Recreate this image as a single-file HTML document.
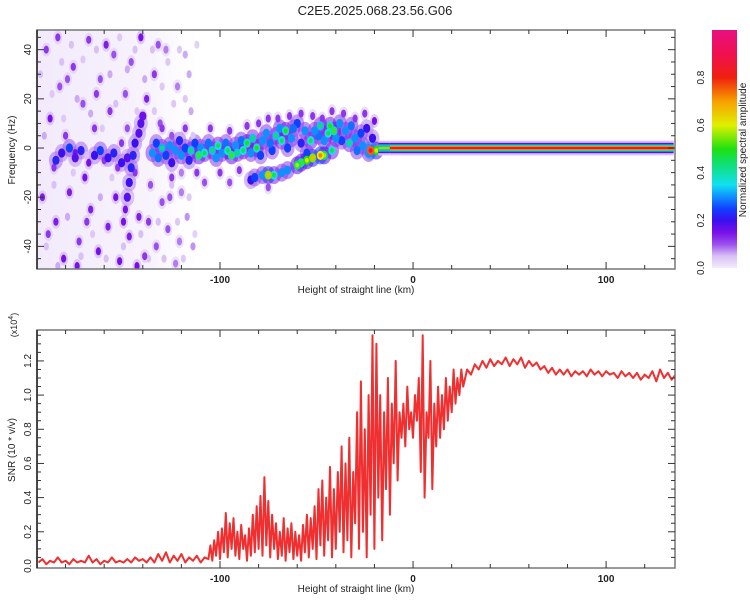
<!DOCTYPE html>
<html><head><meta charset="utf-8"><style>
html,body{margin:0;padding:0;background:#fff;}
svg{display:block;font-family:"Liberation Sans",sans-serif;}
</style></head><body>
<svg id="c" width="750" height="600" viewBox="0 0 750 600"></svg>
<script>
// ---------- data ----------
const xTickLabels = [-100, 0, 100];
const freqTickLabels = [-40, -20, 0, 20, 40];
const snrTickLabels = [0.0, 0.2, 0.4, 0.6, 0.8, 1.0, 1.2];
const cbarTickLabels = [0.0, 0.2, 0.4, 0.6, 0.8];

// noise dots [km, Hz, amplitude]
const noiseDots = [[-190,40,0.12],[-188,12,0.15],[-186,-8,0.12],[-185,-30,0.14],[-183,25,0.1],[-181,-45,0.15],[-180,5,0.12],[-178,-18,0.14],[-176,33,0.12],[-175,-2,0.15],[-173,-38,0.12],[-171,18,0.1],[-170,-12,0.15],[-168,44,0.12],[-167,-25,0.14],[-165,8,0.12],[-163,-42,0.15],[-162,28,0.1],[-160,-5,0.12],[-158,-32,0.14],[-157,15,0.12],[-155,38,0.1],[-154,-20,0.15],[-152,-46,0.15],[-151,2,0.12],[-149,22,0.1],[-147,-36,0.14],[-146,35,0.1],[-144,-10,0.12],[-142,-28,0.14],[-141,45,0.15],[-139,-44,0.12],[-138,20,0.14],[-136,-15,0.1],[-134,30,0.12],[-133,-40,0.1],[-131,10,0.1],[-130,-22,0.1],[-128,40,0.08],[-127,-33,0.1],[-125,5,0.1],[-123,-47,0.08],[-122,25,0.08],[-120,-10,0.08],[-118,38,0.06],[-117,-28,0.07],[-115,15,0.06],[-114,-40,0.07],[-192,-20,0.14],[-189,-35,0.12],[-184,45,0.12],[-179,28,0.1],[-174,-48,0.15],[-169,-30,0.12],[-164,22,0.12],[-159,42,0.14],[-153,-8,0.12],[-148,8,0.1],[-143,-48,0.15],[-137,-30,0.12],[-132,42,0.1],[-126,-20,0.1],[-121,-38,0.08],[-116,30,0.06],
[-193,30,0.05],[-191,5,0.06],[-190,-40,0.05],[-187,22,0.04],[-186,-15,0.05],[-184,-48,0.06],[-182,35,0.05],[-181,12,0.04],[-179,-28,0.06],[-177,42,0.05],[-176,-10,0.04],[-174,20,0.06],[-172,-44,0.05],[-171,36,0.04],[-169,-3,0.05],[-167,14,0.06],[-166,-35,0.04],[-164,40,0.05],[-162,-20,0.06],[-161,8,0.04],[-159,-45,0.05],[-157,30,0.06],[-156,-12,0.04],[-154,18,0.05],[-152,45,0.04],[-150,-40,0.05],[-148,32,0.06],[-146,-20,0.04],[-144,40,0.05],[-143,15,0.04],[-141,-35,0.05],[-139,28,0.06],[-137,-45,0.04],[-135,40,0.05],[-134,15,0.04],[-132,-30,0.05],[-130,25,0.04],[-129,-45,0.05],[-127,35,0.04],[-125,-15,0.05],[-124,18,0.04],[-122,-30,0.04],[-121,40,0.04],[-119,-45,0.04],[-118,20,0.04],[-116,-20,0.04],[-114,5,0.04],[-113,-35,0.03],[-112,42,0.03]];

// signal blobs [km, Hz, amplitude]
const signalBlobs = [[-185,-5,0.22],[-182,-2,0.2],[-178,0,0.25],[-175,-4,0.18],[-172,-1,0.22],[-168,-6,0.15],[-165,-3,0.2],[-162,-1,0.25],[-158,-4,0.2],[-155,-2,0.22],[-151,-6,0.2],[-148,-4,0.18],
[-150,-30,0.15],[-149,-25,0.15],[-148,-20,0.18],[-147,-14,0.2],[-146,-8,0.22],[-145,-3,0.22],[-144,2,0.2],[-142,6,0.18],[-141,10,0.18],[-140,13,0.16],
[-130,8,0.12],[-125,-12,0.12],[-118,8,0.12],[-112,-10,0.12],[-105,8,0.12],[-100,-10,0.12],[-95,7,0.12],[-90,-9,0.12],[-86,9,0.12],[-80,10,0.12],[-75,12,0.12],[-70,12,0.12],[-64,13,0.12],[-58,14,0.12],[-52,13,0.12],[-47,12,0.12],[-42,15,0.12],[-36,14,0.12],[-30,12,0.12],[-25,14,0.12],[-95,-14,0.1],[-108,-14,0.1],[-120,-18,0.08],[-75,-16,0.1],
[-135,-2,0.3],[-133,2,0.25],[-132,-4,0.28],[-130,0,0.32],[-128,-3,0.25],[-126,1,0.3],[-125,-6,0.2],[-123,-1,0.3],[-121,3,0.22],[-120,-3,0.3],[-118,0,0.25],[-116,-5,0.22],[-115,-1,0.33],[-113,2,0.25],[-111,-3,0.4],[-110,0,0.3],[-108,-2,0.35],[-106,2,0.28],[-104,-1,0.33],[-102,-4,0.3],[-101,1,0.35],[-99,-2,0.3],[-97,2,0.28],[-96,-1,0.35],[-94,-3,0.4],[-92,1,0.3],[-91,-2,0.33],[-89,3,0.28],[-88,-1,0.35],[-86,2,0.38],[-84,-2,0.3],[-83,4,0.33],[-81,0,0.38],[-79,-3,0.25],[-78,3,0.3],[-76,6,0.3],[-74,2,0.28],[-73,-1,0.25],[-71,5,0.33],[-69,8,0.3],[-68,3,0.35],[-66,7,0.38],[-65,0,0.25],[-63,4,0.3],[-62,8,0.28],[-60,10,0.25],[-58,2,0.22],[-56,7,0.3],[-55,-2,0.25],[-53,3,0.35],[-51,7,0.3],[-49,5,0.28],[-48,9,0.33],[-46,3,0.3],[-44,6,0.35],[-43,9,0.38],[-41,7,0.4],[-40,4,0.3],[-38,10,0.3],[-37,3,0.25],[-35,7,0.3],[-33,2,0.33],[-32,9,0.28],[-30,4,0.3],[-29,-1,0.28],[-27,6,0.25],[-26,1,0.3],[-24,8,0.2],[-23,-2,0.3],[-21,4,0.2],[-20,11,0.15],
[-84,-13,0.2],[-82,-12,0.25],[-78,-11,0.3],[-75,-11,0.55],[-72,-11,0.35],[-68,-10,0.3],[-65,-9,0.3],[-60,-7,0.45],[-58,-6,0.4],[-55,-5,0.5],[-52,-4,0.55],[-48,-3,0.6],[-46,-3,0.45],[-42,-1,0.35],[-22,-1,0.75],[-19,-1,0.5]];

// carrier band [kmStart, kmEnd, amplitude]
const carrierSegments = [[-18,-12,0.55],[-12,135,0.85]];

// SNR (x10^4) segments: start km, step km, values
const snrFarStart = -194, snrFarStep = 2;
const snrFar = [0.02,0.04,0.01,0.03,0.02,0.05,0.02,0.03,0.01,0.04,0.02,0.03,0.02,0.06,0.02,0.04,0.01,0.03,0.02,0.05,0.02,0.03,0.02,0.04,0.02,0.05,0.03,0.04,0.02,0.05,0.02,0.07,0.03,0.08,0.02,0.06,0.03,0.07,0.02,0.05,0.03,0.06,0.02,0.05];
const snrNoisyStart = -106, snrNoisyStep = 1;
const snrNoisy = [0.04,0.12,0.03,0.15,0.06,0.2,0.04,0.22,0.08,0.31,
0.05,0.25,0.1,0.28,0.06,0.2,0.04,0.24,0.1,0.18,
0.03,0.22,0.06,0.3,0.08,0.35,0.1,0.41,0.06,0.52,
0.12,0.38,0.05,0.3,0.1,0.25,0.04,0.2,0.06,0.28,
0.03,0.22,0.08,0.25,0.04,0.2,0.06,0.18,0.03,0.24,
0.08,0.3,0.05,0.28,0.1,0.35,0.04,0.45,0.12,0.5,
0.06,0.4,0.15,0.58,0.05,0.45,0.1,0.55,0.2,0.7,
0.08,0.6,0.15,0.75,0.05,0.55,0.25,0.9,0.1,1.08,
0.2,0.8,0.05,1.0,0.3,1.35,0.1,1.3,0.4,1.0,
0.15,0.9,0.45,1.1,0.3,0.95,0.6,1.2,0.5,0.9,
0.75,0.95,0.7,1.05,0.8,0.9,0.75,1.0,0.85,1.1,
0.55,1.35,0.4,0.9,0.75,1.2,0.45,0.95,0.7,1.05,
0.75,1.0,0.8,1.1,0.85,1.05,0.9,1.15,0.95,1.1,
1.0,1.15];
const snrPlateauStart = 26, snrPlateauStep = 2;
const snrPlateau = [1.05,1.15,1.12,1.18,1.15,1.2,1.16,1.21,1.17,1.2,
1.18,1.22,1.17,1.21,1.18,1.22,1.16,1.2,1.17,1.19,
1.15,1.17,1.13,1.16,1.12,1.15,1.12,1.15,1.11,1.14,
1.12,1.14,1.11,1.15,1.12,1.14,1.11,1.14,1.12,1.13,
1.1,1.14,1.11,1.13,1.1,1.13,1.09,1.12,1.1,1.14,
1.08,1.15,1.1,1.13,1.09,1.12];

// ---------- layout ----------
const NS = "http://www.w3.org/2000/svg";
const svg = document.getElementById('c');
const L = 37, R = 675;
const T1 = 30, B1 = 269, T2 = 330, B2 = 568;
const kmMin = -194.8, kmMax = 135.7;
const hzMin = -49.2, hzMax = 48;
const snrMin = -0.012, snrMax = 1.381;
const xS = km => L + (km - kmMin) / (kmMax - kmMin) * (R - L);
const yF = hz => B1 - (hz - hzMin) / (hzMax - hzMin) * (B1 - T1);
const yS = v => B2 - (v - snrMin) / (snrMax - snrMin) * (B2 - T2);
const CB0 = 268, CB1 = 30;
const yC = a => CB0 - a * (CB0 - CB1);

function mk(tag, attrs, parent) {
  const e = document.createElementNS(NS, tag);
  for (const k in attrs) e.setAttribute(k, attrs[k]);
  (parent || svg).appendChild(e);
  return e;
}
const stops = [[0,[243,236,251]],[0.05,[217,192,245]],[0.1,[154,80,238]],[0.15,[122,16,232]],[0.2,[58,16,240]],[0.25,[16,64,255]],[0.3,[16,144,255]],[0.35,[16,224,240]],[0.45,[16,224,96]],[0.5,[32,224,16]],[0.6,[224,240,0]],[0.7,[248,160,0]],[0.8,[240,32,16]],[0.9,[240,16,80]],[1,[232,16,128]]];
function cmap(a) {
  a = Math.max(0, Math.min(1, a));
  for (let i = 1; i < stops.length; i++) {
    if (a <= stops[i][0]) {
      const [a0, c0] = stops[i-1], [a1, c1] = stops[i];
      const t = (a - a0) / (a1 - a0);
      return 'rgb(' + c0.map((c, j) => Math.round(c + (c1[j] - c) * t)).join(',') + ')';
    }
  }
  return 'rgb(232,16,128)';
}

// defs
const defs = mk('defs', {});
const clip = mk('clipPath', {id: 'clipTop'}, defs);
mk('rect', {x: L, y: T1, width: R - L, height: B1 - T1}, clip);
const clip2 = mk('clipPath', {id: 'clipBot'}, defs);
mk('rect', {x: L, y: T2, width: R - L, height: B2 - T2}, clip2);
const grad = mk('linearGradient', {id: 'cbGrad', x1: 0, y1: 1, x2: 0, y2: 0}, defs);
for (let i = 0; i <= 20; i++) mk('stop', {offset: i / 20, 'stop-color': cmap(i / 20)}, grad);
const fade = mk('linearGradient', {id: 'noiseFade', x1: 0, y1: 0, x2: 1, y2: 0}, defs);
mk('stop', {offset: 0, 'stop-color': '#efe5fa', 'stop-opacity': 0.8}, fade);
mk('stop', {offset: 0.7, 'stop-color': '#f2eafb', 'stop-opacity': 0.6}, fade);
mk('stop', {offset: 1, 'stop-color': '#f7f2fd', 'stop-opacity': 0}, fade);

// title
const title = mk('text', {x: 375, y: 15, 'text-anchor': 'middle', 'font-size': 13, fill: '#222'});
title.textContent = 'C2E5.2025.068.23.56.G06';



// ---------- top: spectrogram ----------
const gTop = mk('g', {'clip-path': 'url(#clipTop)'});


const wash = mk('rect', {x: xS(kmMin), y: T1, width: xS(-112) - xS(kmMin), height: B1 - T1, fill: 'url(#noiseFade)'}, gTop);



const allBlobs = noiseDots.concat(signalBlobs).slice().sort((a, b) => a[2] - b[2]);
allBlobs.forEach(b => {
  if (b[2] < 0.08) return;
  const cx = xS(b[0]), cy = yF(b[1]);
  const big = b[2] >= 0.18;
  const h = mk('ellipse', {cx: cx, cy: cy, rx: big ? 7 : 4.5, ry: big ? 9 : 7, fill: cmap(b[2] * 0.4), opacity: 0.55}, gTop);
  
  
});
allBlobs.forEach(b => {
  const cx = xS(b[0]), cy = yF(b[1]);
  const small = b[2] < 0.16;
  const e = mk('ellipse', {cx: cx, cy: cy, rx: small ? 2.6 : 3.6, ry: small ? 4 : 4.6, fill: cmap(b[2])}, gTop);
  
  
  if (b[2] > 0.3) {
    const c = mk('ellipse', {cx: cx, cy: cy, rx: 2, ry: 2.3, fill: cmap(b[2] + 0.12)}, gTop);
    
    
  }
});
carrierSegments.forEach(s => {
  const x0 = xS(s[0]), x1 = xS(s[1]);
  const layers = [[3.0, 0.05], [2.1, 0.18], [1.6, 0.3], [1.2, 0.45], [0.9, s[2] - 0.25], [0.6, s[2]]];
  layers.forEach(l => {
    const r = mk('rect', {x: x0, y: yF(l[0]), width: x1 - x0, height: yF(-l[0]) - yF(l[0]), fill: cmap(l[1])}, gTop);
    
    
  });
});

// ---------- axes helper ----------
function frame(top, bot, name) {
  const g = mk('g', {});
  
  
  mk('rect', {x: L, y: top, width: R - L, height: bot - top, fill: 'none', stroke: '#777', 'stroke-width': 1.5}, g);
  mk('line', {x1: L, y1: top, x2: L, y2: bot, stroke: '#222', 'stroke-width': 1.5}, g);
  for (let km = -180; km <= 120; km += 20) {
    const x = xS(km), len = km % 100 === 0 ? 7 : 4;
    mk('line', {x1: x, y1: bot, x2: x, y2: bot - len, stroke: '#333', 'stroke-width': 1}, g);
    mk('line', {x1: x, y1: top, x2: x, y2: top + len, stroke: '#333', 'stroke-width': 1}, g);
  }
  return g;
}
function xLabels(bot, name) {
  xTickLabels.forEach(v => {
    const t = mk('text', {x: xS(v), y: bot + 14, 'text-anchor': 'middle', 'font-size': 10, 'font-weight': 'bold', fill: '#222'});
    t.textContent = v;
    
    
  });
  const t = mk('text', {x: 356, y: bot + 24, 'text-anchor': 'middle', 'font-size': 10, fill: '#222'});
  t.textContent = 'Height of straight line (km)';
  
  
}

const f1 = frame(T1, B1, 'spectrogram-axes');
for (let hz = -45; hz <= 45; hz += 5) {
  const y = yF(hz), len = hz % 20 === 0 ? 7 : 4;
  mk('line', {x1: L, y1: y, x2: L + len, y2: y, stroke: '#333'}, f1);
  mk('line', {x1: R, y1: y, x2: R - len, y2: y, stroke: '#333'}, f1);
}
freqTickLabels.forEach(v => {
  const y = yF(v);
  const t = mk('text', {x: 0, y: 0, transform: `translate(31,${y}) rotate(-90)`, 'text-anchor': 'middle', 'font-size': 10, fill: '#222'});
  t.textContent = v;
  
  
});
const fy = mk('text', {transform: `translate(15,150) rotate(-90)`, 'text-anchor': 'middle', 'font-size': 10, fill: '#222'});
fy.textContent = 'Frequency (Hz)';


xLabels(B1, 'x-axis-title');

// colorbar
const cb = mk('rect', {x: 712, y: CB1, width: 25, height: CB0 - CB1, fill: 'url(#cbGrad)'});


cbarTickLabels.forEach(v => {
  const t = mk('text', {transform: `translate(704,${yC(v)}) rotate(-90)`, 'text-anchor': 'middle', 'font-size': 10, fill: '#222'});
  t.textContent = v.toFixed(1);
  
  
});
const cbt = mk('text', {transform: `translate(746,150) rotate(-90)`, 'text-anchor': 'middle', 'font-size': 10, fill: '#222'});
cbt.textContent = 'Normalized spectral amplitude';



// ---------- bottom: SNR ----------
const pts = [];
snrFar.forEach((v, i) => pts.push([snrFarStart + i * snrFarStep, v]));
snrNoisy.forEach((v, i) => pts.push([snrNoisyStart + i * snrNoisyStep, v]));
snrPlateau.forEach((v, i) => pts.push([snrPlateauStart + i * snrPlateauStep, v]));
const gBot = mk('g', {'clip-path': 'url(#clipBot)'});


const line = mk('path', {d: 'M' + pts.map(p => xS(p[0]).toFixed(1) + ',' + yS(p[1]).toFixed(1)).join('L'), fill: 'none', stroke: '#f03030', 'stroke-width': 2, 'stroke-linejoin': 'round'}, gBot);



const f2 = frame(T2, B2, 'snr-axes');
for (let v = 0.05; v <= 1.36; v += 0.05) {
  const y = yS(v), len = Math.abs(v * 5 - Math.round(v * 5)) < 0.01 ? 7 : 4;
  mk('line', {x1: L, y1: y, x2: L + len, y2: y, stroke: '#333'}, f2);
  mk('line', {x1: R, y1: y, x2: R - len, y2: y, stroke: '#333'}, f2);
}
snrTickLabels.forEach(v => {
  const t = mk('text', {transform: `translate(31,${yS(v)}) rotate(-90)`, 'text-anchor': 'middle', 'font-size': 10, fill: '#222'});
  t.textContent = v.toFixed(1);
  
  
});
const sy = mk('text', {transform: `translate(15,450) rotate(-90)`, 'text-anchor': 'middle', 'font-size': 10, fill: '#222'});
sy.textContent = 'SNR (10 * v/v)';


const sx = mk('text', {transform: `translate(17,325) rotate(-90)`, 'text-anchor': 'middle', 'font-size': 9, fill: '#222'});
sx.innerHTML = '(x10<tspan dy="-4" font-size="7">4</tspan><tspan dy="4">)</tspan>';


xLabels(B2, 'snr-x-axis-title');
</script>
</body></html>
